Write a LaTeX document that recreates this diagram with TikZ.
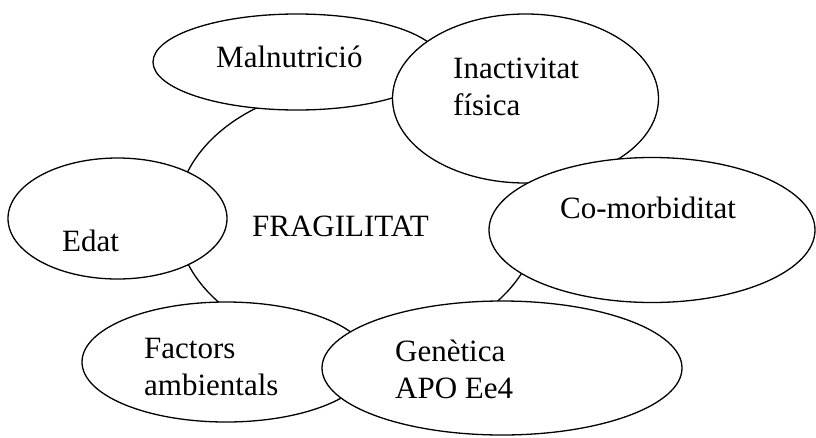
\documentclass[tikz,border=0pt]{standalone}
\usepackage{fontspec}
\setmainfont{Liberation Serif}
\usetikzlibrary{shapes.geometric}
\begin{document}
\begin{tikzpicture}[x=1pt,y=-1pt,
  blob/.style={ellipse,draw=black,fill=white,line width=1.3pt,inner sep=0pt},
  lbl/.style={anchor=base west,inner sep=0pt,align=left,font=\fontsize{31}{37}\selectfont}]
\useasboundingbox (0,0) rectangle (816,437);
\node[blob,minimum width=362pt,minimum height=264pt] (frag) at (357.5,217.5) {};
\node[blob,minimum width=288pt,minimum height=96pt] (maln) at (297,62) {};
\node[blob,minimum width=266pt,minimum height=169pt] (inact) at (525.5,98.5) {};
\node[blob,minimum width=326pt,minimum height=145pt] (comor) at (652,230) {};
\node[blob,minimum width=219pt,minimum height=121pt] (edat) at (117.5,218.5) {};
\node[blob,minimum width=288pt,minimum height=120pt] (fact) at (226,362) {};
\node[blob,minimum width=360pt,minimum height=134pt] (gen) at (502,368) {};
\node[lbl] (tfrag) at (252,236) {FRAGILITAT};
\node[lbl] (tmaln) at (216,67) {Malnutrició};
\node[lbl] (tinact) at (453,115) {Inactivitat\\física};
\node[lbl] (tcomor) at (560,218) {Co-morbiditat};
\node[lbl] (tedat) at (62,251) {Edat};
\node[lbl] (tfact) at (144,395) {Factors\\ambientals};
\node[lbl] (tgen) at (395,398) {Genètica\\APO Ee4};
\end{tikzpicture}
\end{document}
